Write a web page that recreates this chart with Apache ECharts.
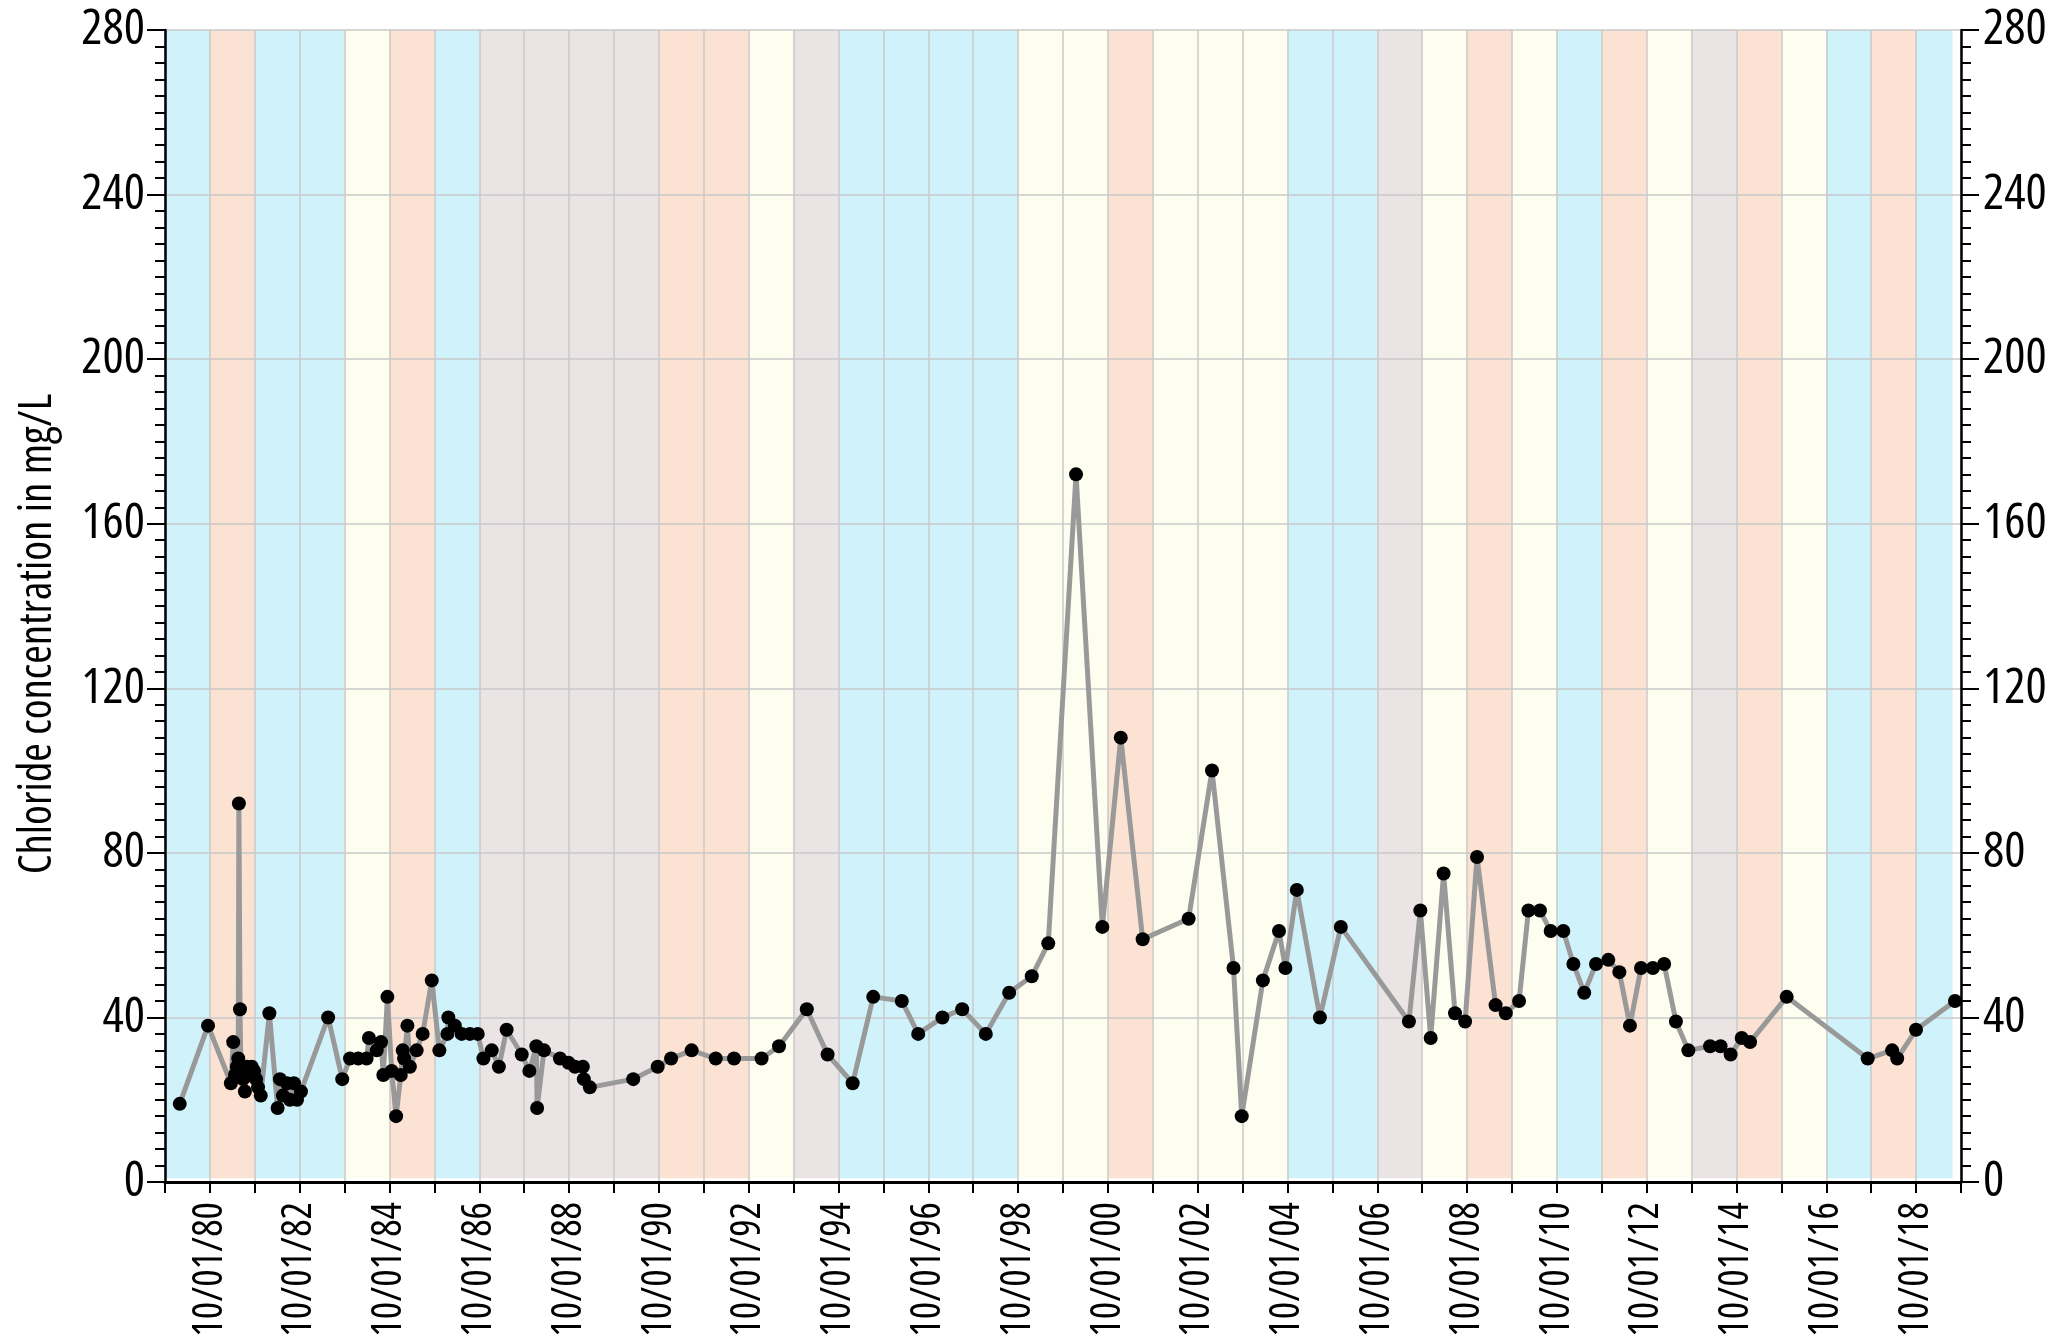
<!DOCTYPE html>
<html>
<head>
<meta charset="utf-8">
<script src="https://cdn.jsdelivr.net/npm/echarts@6/dist/echarts.min.js"></script>
<style>
html,body{margin:0;padding:0;background:#fff;}
#chart{width:2071px;height:1343px;}
</style>
</head>
<body>
<div id="chart"></div>
<script>
// ---- Data ----
const sampleDates = [
 '1980-01-29','1980-09-15',
 '1981-03-20','1981-04-08','1981-04-22','1981-05-08','1981-05-19','1981-05-24','1981-06-02','1981-06-10','1981-06-26','1981-07-12','1981-07-29','1981-08-14','1981-09-06','1981-09-25','1981-10-11','1981-10-27','1981-11-18',
 '1982-01-27','1982-04-04','1982-04-23','1982-05-17','1982-06-19','1982-07-13','1982-08-15','1982-09-09','1982-10-11',
 '1983-05-20','1983-09-12','1983-11-14','1984-01-20','1984-03-28','1984-04-16','1984-06-18','1984-07-23','1984-08-11','1984-09-13',
 '1984-10-18','1984-11-23','1984-12-31','1985-01-16','1985-01-27','1985-02-23','1985-03-15','1985-05-09','1985-06-27','1985-09-09',
 '1985-11-10','1986-01-14','1986-01-22','1986-03-16','1986-05-10','1986-07-16','1986-09-18',
 '1986-11-03','1987-01-10','1987-03-09','1987-05-11','1987-09-11','1987-11-12','1988-01-08','1988-01-14','1988-03-10','1988-07-18','1988-09-25',
 '1988-11-17','1989-01-20','1989-01-28','1989-03-18',
 '1990-03-06','1990-09-21','1991-01-08','1991-06-24','1992-01-06','1992-06-03','1993-01-13','1993-06-04','1994-01-16','1994-07-04',
 '1995-01-24','1995-07-10','1996-02-28','1996-07-10','1997-01-23','1997-07-03','1998-01-11','1998-07-20','1999-01-20','1999-06-03',
 '2000-01-15','2000-08-16','2001-01-13','2001-07-10','2002-07-19','2003-01-25','2003-07-19','2003-09-24','2004-03-14','2004-07-23','2004-09-13','2004-12-15','2005-06-21','2005-12-08',
 '2007-06-15','2007-09-16','2007-12-09','2008-03-23','2008-06-24','2008-09-14','2008-12-20','2009-05-20','2009-08-11','2009-11-27',
 '2010-02-11','2010-05-16','2010-08-11','2010-11-22','2011-02-12','2011-05-11','2011-08-15','2011-11-23','2012-02-21','2012-05-17','2012-08-15','2012-11-19',
 '2013-02-19','2013-05-26','2013-09-04','2014-02-28','2014-05-24','2014-08-14','2014-11-12','2015-01-19','2015-11-13',
 '2017-09-02','2018-03-20','2018-04-30','2018-09-30','2019-08-13'
];
const chlorideValues = [
 19,38,
 24,34,26,28,30,92,42,27,25,22,28,26,28,27,25,23,21,
 41,18,25,21,24,20,24,20,22,
 40,25,30,30,30,35,32,34,26,45,
 27,16,26,32,30,38,28,32,36,49,
 32,36,40,38,36,36,36,
 30,32,28,37,31,27,33,18,32,30,29,
 28,28,25,23,
 25,28,30,32,30,30,30,33,42,31,
 24,45,44,36,40,42,36,46,50,58,
 172,62,108,59,64,100,52,16,49,61,52,71,40,62,
 39,66,35,75,41,39,79,43,41,44,
 66,66,61,61,53,46,53,54,51,38,52,52,
 53,39,32,33,33,31,35,34,45,
 30,32,30,37,44
];
// Water-year classes, WY1980 .. WY2019 (each starts 10/01 of the previous year)
const waterYearStart = 1979;
const waterYearClass = [
 'wet','dry','wet','wet','normal','dry','wet','critical','critical','critical',
 'critical','dry','dry','normal','critical','wet','wet','wet','wet','normal',
 'normal','dry','normal','normal','normal','wet','wet','critical','normal','dry',
 'normal','wet','dry','normal','critical','dry','normal','wet','dry','wet'
];
const bandEndDate = '2019-07-25';
const yTicks = [0,40,80,120,160,200,240,280];
const yTitle = 'Chloride concentration in mg/L';

// ---- condensed text: Open Sans drawn at its condensed width ----
(function(){
  const P = CanvasRenderingContext2D.prototype;
  const d = Object.getOwnPropertyDescriptor(P, 'font');
  if (d && d.set && ('fontStretch' in P)) {
    Object.defineProperty(P, 'font', {
      configurable:true,
      get(){ return d.get.call(this); },
      set(v){ d.set.call(this, v); try { this.fontStretch = /Open Sans/.test(v) ? 'condensed' : 'normal'; } catch(e){} }
    });
  }
})();

// ---- helpers ----
const ORIGIN = Date.UTC(1979,9,1);
function toT(s){ const p=s.split('-').map(Number); return (Date.UTC(p[0],p[1]-1,p[2]) - ORIGIN)/(365.25*864e5); }
const classColor = {wet:'#D0F3FB', dry:'#FCE2D2', normal:'#FEFEF0', critical:'#EAE4E4'};

const points = sampleDates.map((d,i)=>[toT(d), chlorideValues[i]]);
const bands = waterYearClass.map((c,k)=>{
  const s = toT((waterYearStart+k)+'-10-01');
  let e = toT((waterYearStart+k+1)+'-10-01');
  if (k === waterYearClass.length-1) e = toT(bandEndDate);
  return [{xAxis:s, yAxis:0.9, itemStyle:{color:classColor[c]}}, {xAxis:e, yAxis:yTicks[yTicks.length-1]}];
});

const FONT = '"Open Sans","Roboto Condensed",sans-serif';
function yAxisCfg(pos, margin, split){
  return {
    type:'value', position:pos, min:yTicks[0], max:yTicks[yTicks.length-1], interval:yTicks[1]-yTicks[0], z:3,
    axisLine:{show:true, lineStyle:{color:'#000', width:2.5}},
    axisTick:{show:true, length:18, lineStyle:{color:'#000', width:2}},
    minorTick:{show:true, splitNumber:10, length:10, lineStyle:{color:'#000', width:2}},
    axisLabel:{color:'#000', fontFamily:FONT, fontSize:50, margin:margin},
    splitLine:{show:split, lineStyle:{color:'#C9C9C9', width:1.5}}
  };
}

const chart = echarts.init(document.getElementById('chart'), null, {renderer:'canvas'});
chart.setOption({
  animation:false,
  backgroundColor:'#fff',
  grid:{left:165, right:110, top:30, bottom:161, containLabel:false},
  xAxis:{
    type:'value', min:0, max:40, interval:1, z:3,
    axisLine:{show:true, lineStyle:{color:'#000', width:3}},
    axisTick:{show:true, length:11, lineStyle:{color:'#000', width:2}},
    splitLine:{show:true, lineStyle:{color:'#C9C9C9', width:1.5}},
    axisLabel:{
      rotate:90, margin:20, color:'#000', fontFamily:FONT, fontSize:41,
      showMinLabel:true, showMaxLabel:true,
      formatter:function(v){ const k=Math.round(v); return (k%2===1) ? '10/01/'+String(waterYearStart+k).slice(2) : ''; }
    }
  },
  yAxis:[ yAxisCfg('left', 20, true), yAxisCfg('right', 22, false) ],
  graphic:[{
    type:'text', x:38, y:634, rotation:Math.PI/2, z:100,
    style:{text:yTitle, font:'45px '+FONT, fill:'#000', textAlign:'center', textVerticalAlign:'middle'}
  }],
  series:[
    {
      type:'line', data:[], z:1, silent:true,
      markArea:{silent:true, z:1, data:bands}
    },
    {
      type:'line', data:points, z:10,
      symbol:'circle', symbolSize:14, showAllSymbol:true,
      itemStyle:{color:'#000'},
      lineStyle:{color:'#999999', width:5}
    }
  ]
});
</script>
</body>
</html>
